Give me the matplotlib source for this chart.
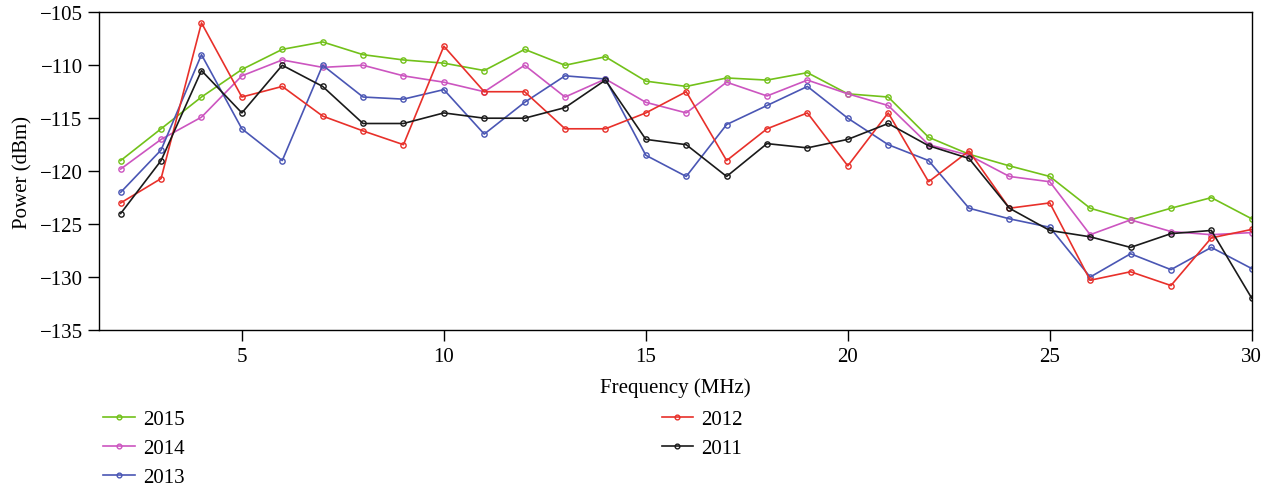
import matplotlib
matplotlib.use("Agg")
import matplotlib.pyplot as plt

plt.rcParams['font.family'] = ['Liberation Serif', 'DejaVu Serif']

freq = list(range(2, 31))

p2015 = [-119.0, -116.0, -113.0, -110.4, -108.5, -107.8, -109.0, -109.5, -109.8, -110.5,
         -108.5, -110.0, -109.2, -111.5, -112.0, -111.2, -111.4, -110.7, -112.7, -113.0,
         -116.8, -118.4, -119.5, -120.5, -123.5, -124.6, -123.5, -122.5, -124.5]
p2014 = [-119.8, -117.0, -114.9, -111.0, -109.5, -110.2, -110.0, -111.0, -111.6, -112.5,
         -110.0, -113.0, -111.3, -113.5, -114.5, -111.6, -112.9, -111.4, -112.7, -113.8,
         -117.5, -118.5, -120.5, -121.0, -126.0, -124.6, -125.7, -126.0, -125.8]
p2013 = [-122.0, -118.0, -109.0, -116.0, -119.0, -110.0, -113.0, -113.2, -112.3, -116.5,
         -113.5, -111.0, -111.3, -118.5, -120.5, -115.6, -113.8, -112.0, -115.0, -117.5,
         -119.0, -123.5, -124.5, -125.3, -130.0, -127.8, -129.3, -127.2, -129.2]
p2012 = [-123.0, -120.7, -106.0, -113.0, -112.0, -114.8, -116.2, -117.5, -108.2, -112.5,
         -112.5, -116.0, -116.0, -114.5, -112.5, -119.0, -116.0, -114.5, -119.5, -114.5,
         -121.0, -118.1, -123.5, -123.0, -130.3, -129.5, -130.8, -126.3, -125.5]
p2011 = [-124.0, -119.0, -110.5, -114.5, -110.0, -112.0, -115.5, -115.5, -114.5, -115.0,
         -115.0, -114.0, -111.4, -117.0, -117.5, -120.5, -117.4, -117.8, -117.0, -115.5,
         -117.6, -118.8, -123.5, -125.6, -126.2, -127.2, -125.9, -125.6, -132.0]

series = [("2015", p2015, "#72c11a"),
          ("2014", p2014, "#cc55c0"),
          ("2013", p2013, "#4a56b4"),
          ("2012", p2012, "#e8302a"),
          ("2011", p2011, "#1a1a1a")]

fig = plt.figure(figsize=(12.76, 4.89), dpi=100)
ax = fig.add_axes([0.0778, 0.3231, 0.9032, 0.6497])

for name, vals, col in series:
    ax.plot(freq, vals, color=col, lw=1.2, marker='o', ms=3.8,
            mfc='none', mec=col, mew=1.0, label=name)

ax.set_xlim(1.47, 30)
ax.set_ylim(-135, -105)
ax.set_xticks([5, 10, 15, 20, 25, 30])
ax.set_yticks([-135, -130, -125, -120, -115, -110, -105])
ax.tick_params(direction='out', length=8, width=1, labelsize=15, pad=4)
for s in ax.spines.values():
    s.set_linewidth(1)
ax.set_xlabel("Frequency (MHz)", fontsize=15, labelpad=8)
ax.set_ylabel("Power (dBm)", fontsize=15, labelpad=5)

fig.legend(loc='upper left', bbox_to_anchor=(93 / 1276, 1 - 400 / 489),
           ncol=2, frameon=False, fontsize=15, borderpad=0,
           handlelength=1.5, handletextpad=0.4, columnspacing=22.9,
           labelspacing=0.45, markerscale=0.9)

plt.savefig("out.png", dpi=100)
plt.close()
